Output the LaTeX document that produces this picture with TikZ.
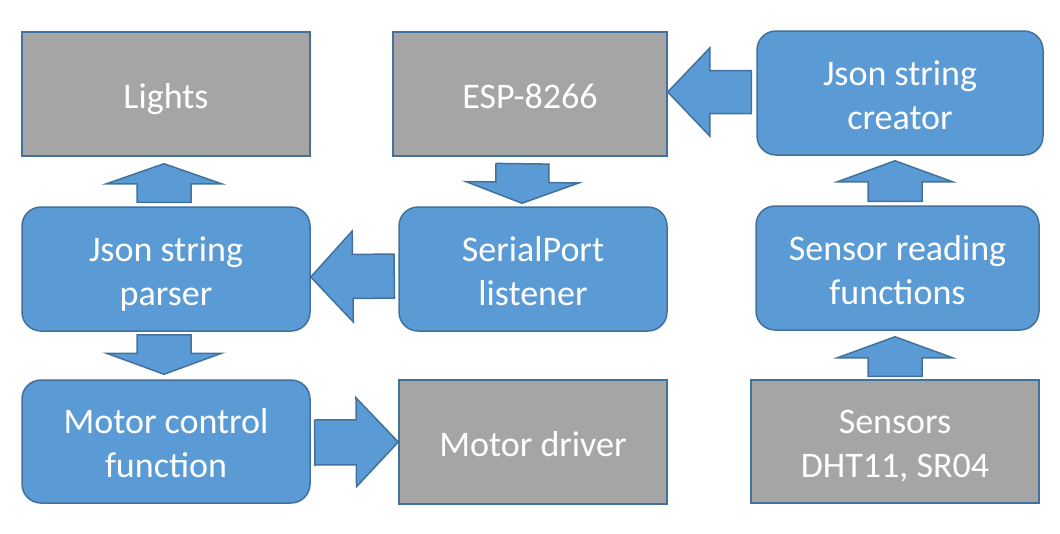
\documentclass[tikz,border=0pt]{standalone}
\usepackage{fontspec}
\setmainfont{Carlito}
\usetikzlibrary{calc}
\definecolor{boxblue}{HTML}{5B9BD5}
\definecolor{edgeblue}{HTML}{41719C}
\definecolor{boxgray}{HTML}{A5A5A5}
\newcommand{\pps}{\rule[-7.7pt]{0pt}{44pt}}
\tikzset{
  base/.style={draw=edgeblue, line width=1.5pt, text=white, align=center, inner sep=0pt,
    font=\fontsize{36}{44}\selectfont},
  procbox/.style={base, fill=boxblue, rounded corners=19pt},
  hwbox/.style={base, fill=boxgray},
  blockarr/.style={draw=edgeblue, fill=boxblue, line width=1.5pt, line join=miter},
}
% #1 tail coordinate name, #2 tip coordinate name, #3 shaft half width, #4 head half width, #5 head length
\newcommand{\blockarrow}[5]{%
  \coordinate (ba-B) at ($(#2)!#5!(#1)$);
  \draw[blockarr] ($(#1)!#3!90:(#2)$) -- ($(ba-B)!#3!-90:(#1)$) -- ($(ba-B)!#4!-90:(#1)$)
    -- (#2) -- ($(ba-B)!#4!90:(#1)$) -- ($(ba-B)!#3!90:(#1)$) -- ($(#1)!#3!-90:(#2)$) -- cycle;
}
\begin{document}
\begin{tikzpicture}[x=1pt,y=-1pt]
\useasboundingbox (0,0) rectangle (1060,533);
% nodes (centres and sizes from the reference)
\node[hwbox, minimum width=288pt, minimum height=124pt] (lights) at (166,94) {\pps Lights};
\node[hwbox, minimum width=274pt, minimum height=124pt] (esp) at (530,94) {\pps ESP-8266};
\node[procbox, minimum width=286pt, minimum height=124pt] (creator) at (900,93) {\pps Json string\\\pps creator};
\node[procbox, minimum width=288pt, minimum height=124pt] (parser) at (166,269) {\pps Json string\\\pps parser};
\node[procbox, minimum width=268pt, minimum height=124pt] (serial) at (533,269) {\pps SerialPort\\\pps listener};
\node[procbox, minimum width=283pt, minimum height=124pt] (reading) at (897.5,268) {\pps Sensor reading\\\pps functions};
\node[procbox, minimum width=288pt, minimum height=123pt] (motorctl) at (166,441.5) {\pps Motor control\\\pps function};
\node[hwbox, minimum width=268pt, minimum height=124pt] (motordrv) at (533,442) {\pps Motor driver};
\node[hwbox, minimum width=288pt, minimum height=123pt] (sensors) at (895,441.5) {\pps Sensors\\\pps DHT11, SR04};
% arrow end points, tied to the nodes
\coordinate (a1t) at ([xshift=-2pt,yshift=4pt]parser.north);
\coordinate (a1h) at ([xshift=-2pt,yshift=-7pt]lights.south);
\coordinate (a2t) at ([xshift=-7.5pt,yshift=-7pt]esp.south);
\coordinate (a2h) at ([xshift=-11pt,yshift=3pt]serial.north);
\coordinate (a3t) at ([xshift=-4pt,yshift=-7pt]serial.west);
\coordinate (a3h) at ([yshift=-8pt]parser.east);
\coordinate (a4t) at ([xshift=-5pt,yshift=1pt]creator.west);
\coordinate (a4h) at ([yshift=2pt]esp.east);
\coordinate (a5t) at ([xshift=-2.5pt,yshift=4pt]reading.north);
\coordinate (a5h) at ([xshift=-5pt,yshift=-5pt]creator.south);
\coordinate (a6t) at ([xshift=-2pt,yshift=-3pt]parser.south);
\coordinate (a6h) at ([xshift=-2pt,yshift=5pt]motorctl.north);
\coordinate (a7t) at ([xshift=4pt,yshift=-1pt]motorctl.east);
\coordinate (a7h) at (motordrv.west);
\coordinate (a8t) at ([yshift=3pt]sensors.north);
\coordinate (a8h) at ([xshift=-2.5pt,yshift=-6pt]reading.south);
\blockarrow{a1t}{a1h}{27pt}{57.5pt}{20pt}
\blockarrow{a2t}{a2h}{26.5pt}{56.5pt}{21pt}
\blockarrow{a3t}{a3h}{22pt}{45.5pt}{42pt}
\blockarrow{a4t}{a4h}{21.5pt}{44pt}{42pt}
\blockarrow{a5t}{a5h}{27pt}{57.5pt}{21pt}
\blockarrow{a6t}{a6h}{27pt}{57.5pt}{21pt}
\blockarrow{a7t}{a7h}{22.5pt}{44.5pt}{42pt}
\blockarrow{a8t}{a8h}{27pt}{57.5pt}{21pt}
\end{tikzpicture}
\end{document}
